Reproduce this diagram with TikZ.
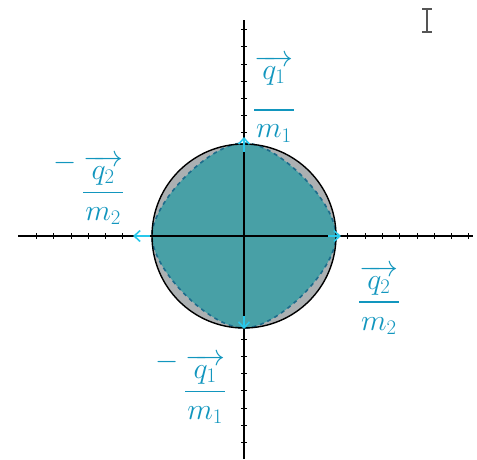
\documentclass[tikz,border=0pt]{standalone}
\usepackage{amsmath}
\usetikzlibrary{arrows.meta}
\definecolor{inkcyan}{RGB}{18,150,190}
\definecolor{tipcyan}{RGB}{40,200,235}
\definecolor{regionteal}{RGB}{72,160,166}
\definecolor{dashteal}{RGB}{28,108,140}
\definecolor{diskgray}{RGB}{172,176,178}
\definecolor{cursorgray}{RGB}{85,85,85}
\tikzset{
  axis/.style={line width=2.4pt, color=black},
  tickmark/.style={line width=0.9pt, color=black},
  rimline/.style={draw=black, line width=1.4pt},
  region/.style={fill=regionteal},
  dashrim/.style={dashteal, line width=1.6pt, dash pattern=on 4pt off 4pt},
  vtip/.style={-{Straight Barb[length=6pt,width=11pt]}, line width=1.6pt, color=tipcyan},
  lbl/.style={inner sep=0pt, font=\fontsize{24}{28}\selectfont, text=inkcyan},
  cursor/.style={line width=1.6pt, color=cursorgray}
}
\newcommand{\accfrac}[4]{\scalebox{1.2}{$#1\dfrac{\overrightarrow{\mkern5mu q_{#2}\mkern5mu}\rule[-#4]{0pt}{0pt}}{m_{#3}}$}}
\newcommand{\negsign}{\raisebox{24pt}{$-$}\,}

\begin{document}
\begin{tikzpicture}[x=1pt, y=-1pt]
\useasboundingbox (0,0) rectangle (477,459);

%% axes ends and disk
\coordinate (o)  at (244,236);
\coordinate (xl) at (18,236);
\coordinate (xr) at (473,236);
\coordinate (yt) at (244,20);
\coordinate (yb) at (244,459);

%% corners of the curved region
\coordinate (top)   at (244,143);
\coordinate (right) at (336,236);
\coordinate (bot)   at (244,328);
\coordinate (left)  at (152,236);

\fill[diskgray] (o) circle[radius=92];
\fill[region] (top) .. controls (278,143) and (336,202) .. (right)
  .. controls (336,270) and (278,328) .. (bot)
  .. controls (210,328) and (152,270) .. (left)
  .. controls (152,202) and (210,143) .. cycle;
\draw[dashrim] (top) .. controls (278,143) and (336,202) .. (right)
  .. controls (336,270) and (278,328) .. (bot)
  .. controls (210,328) and (152,270) .. (left)
  .. controls (152,202) and (210,143) .. cycle;
\draw[rimline] (o) circle[radius=92];

%% axes with ticks
\draw[axis] (xl) -- (xr);
\draw[axis] (yt) -- (yb);
\foreach \k in {-12,...,-7,6,7,...,13}
  \draw[tickmark] (244+17.3*\k,233) -- (244+17.3*\k,239);
\foreach \k in {-12,...,-6,6,7,...,12}
  \draw[tickmark] (241,236+17.2*\k) -- (247,236+17.2*\k);

%% arrow tips at the corners
\coordinate (tb) at (244,152);  \coordinate (tt) at (244,137);
\coordinate (rb) at (328,236);  \coordinate (rt) at (341,236);
\coordinate (bb) at (244,316);  \coordinate (bt) at (244,329);
\coordinate (lb) at (150,236);  \coordinate (lt) at (133,236);
\draw[vtip] (tb) -- (tt);
\draw[vtip] (rb) -- (rt);
\draw[vtip] (bb) -- (bt);
\draw[vtip] (lb) -- (lt);

%% labels
\node[lbl] (qa) at (274,99)   {\accfrac{}{1}{1}{22pt}};
\node[lbl] (qb) at (89,189)   {\accfrac{\negsign}{2}{2}{2pt}};
\node[lbl] (qc) at (379,300)  {\accfrac{}{2}{2}{2pt}};
\node[lbl] (qd) at (191,388)  {\accfrac{\negsign}{1}{1}{2pt}};

%% text cursor
\draw[cursor] (427,10) -- (427,31);
\draw[cursor] (422,9) -- (432,9);
\draw[cursor] (422,32) -- (432,32);

\end{tikzpicture}
\end{document}
